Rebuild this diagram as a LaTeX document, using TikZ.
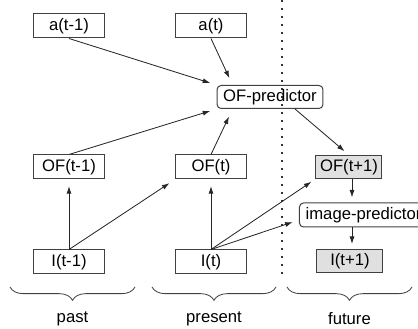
\documentclass[tikz,border=0pt]{standalone}
\usepackage{fontspec}
\setmainfont{Liberation Sans}
\usetikzlibrary{arrows.meta}
\usetikzlibrary{calc}
\usetikzlibrary{decorations.pathreplacing}

\tikzset{
  box/.style={draw=black!75, line width=0.6pt, minimum width=42.6pt, minimum height=14.4pt, inner sep=1pt},
  guess/.style={box, fill=black!12, minimum width=39.6pt, minimum height=13.8pt},
  predictor/.style={draw=black!75, line width=0.6pt, rounded corners=2.4pt, minimum height=13.8pt, inner xsep=3.7pt, inner ysep=1pt},
  flow/.style={-{Latex[length=4.5pt,width=3pt]}, line width=0.5pt, draw=black!85},
  span/.style={decorate, decoration={brace, mirror, amplitude=8pt}, line width=0.5pt, draw=black!75},
}

\begin{document}
\begin{tikzpicture}[x=0.6pt,y=0.6pt]
    \useasboundingbox (0,0) rectangle (418,-329);
    \clip (0,0) rectangle (418,-329);

    \coordinate (C1) at (69, -26);
    \coordinate (C2) at (211, -26);
    \coordinate (C3) at (270, -97);
    \coordinate (C4) at (69, -167);
    \coordinate (C5) at (211, -167);
    \coordinate (C6) at (349, -167);
    \coordinate (C7) at (299, -215);
    \coordinate (C8) at (69, -262);
    \coordinate (C9) at (211, -262);
    \coordinate (C10) at (350, -261);

%time border
    \draw[line width=1.2pt, black!80, dash pattern=on 1.2pt off 3.6pt] (282,0) -- (282,-278);

%nodes
    \node[box] (at1) at (C1) {a(t-1)};
    \node[box] (at) at (C2) {a(t)};
    \node[predictor] (ofp) at (C3) {OF-predictor};
    \node[box] (of1) at (C4) {OF(t-1)};
    \node[box] (of) at (C5) {OF(t)};
    \node[guess] (ofn) at (C6) {OF(t+1)};
    \node[predictor, anchor=west, minimum height=14.4pt] (imp) at (C7) {image-predictor};
    \node[box] (in1) at (C8) {I(t-1)};
    \node[box] (it) at (C9) {I(t)};
    \node[guess] (itn) at (C10) {I(t+1)};
    \coordinate (down) at ($(ofn.south)+(3,0)$);

%arrows
    \draw[flow, shorten >=4pt] (at1.south) -- (ofp.north west);
    \draw[flow, shorten >=4pt] (of1.north) -- (ofp.south west);
    \draw[flow, shorten >=4.5pt] (at.south) -- ($(ofp.north west)+(16,0)$);
    \draw[flow, shorten >=5pt] (of.north) -- ($(ofp.south west)+(16,0)$);
    \draw[flow, shorten >=3.5pt] ($(ofp.south)+(25,0)$) -- (ofn.north);
    \draw[flow, shorten >=4pt] (in1.north) -- (of1.south);
    \draw[flow, shorten >=4pt] (in1.north) -- (of.south west);
    \draw[flow, shorten >=4pt] (it.north) -- (of.south);
    \draw[flow, shorten >=3pt] (it.north) -- (ofn.south west);
    \draw[flow, shorten >=4pt] (it.north) -- ($(imp.south west)!0.3!(imp.north west)$);
    \draw[flow, shorten >=3pt] (down) -- (down |- imp.north);
    \draw[flow, shorten >=3pt] (down |- imp.south) -- (down |- itn.north);

%labels
    \draw[span] (10,-287) -- (135,-287);
    \draw[span] (152,-287) -- (276,-287);
    \draw[span] (287,-287) -- (412,-287);
    \node (past) at (72.5,-319) {past};
    \node (present) at (214,-319) {present};
    \node (future) at (349.5,-319) {future};

\end{tikzpicture}
\end{document}
